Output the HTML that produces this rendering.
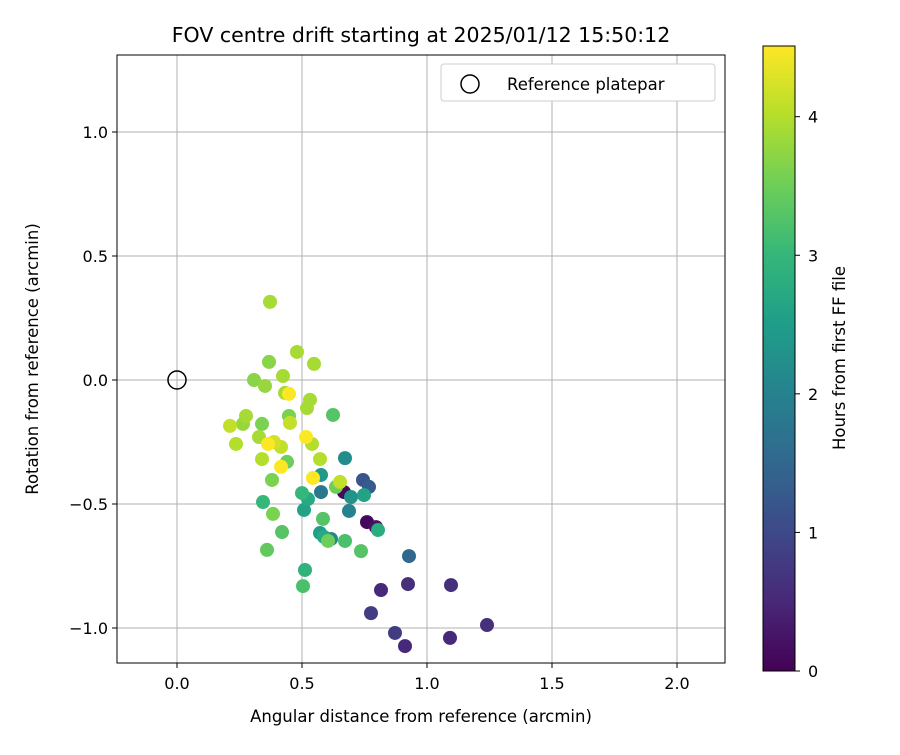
<!DOCTYPE html>
<html><head><meta charset="utf-8"><style>
body{margin:0;background:#fff;font-family:"Liberation Sans","DejaVu Sans",sans-serif}
svg text{font-family:"DejaVu Sans","Liberation Sans",sans-serif;fill:#000}
</style></head><body>
<svg id="chart" width="900" height="750" viewBox="0 0 900 750" xmlns="http://www.w3.org/2000/svg">
<defs>
<linearGradient id="vir" x1="0" y1="1" x2="0" y2="0">
<stop offset="0" stop-color="#440154"/><stop offset="0.111" stop-color="#482878"/><stop offset="0.222" stop-color="#3e4989"/><stop offset="0.333" stop-color="#31688e"/><stop offset="0.444" stop-color="#26828e"/><stop offset="0.556" stop-color="#1f9e89"/><stop offset="0.667" stop-color="#35b779"/><stop offset="0.778" stop-color="#6ece58"/><stop offset="0.889" stop-color="#b5de2b"/><stop offset="1" stop-color="#fde725"/>
</linearGradient>
</defs>
<text x="421" y="42" font-size="20.5" text-anchor="middle">FOV centre drift starting at 2025/01/12 15:50:12</text>
<g id="grid"></g>
<g id="marks"></g>
<rect x="117" y="55" width="608" height="608" fill="none" stroke="#000" stroke-width="1"/>
<g id="axes"></g>
<text x="421" y="722" font-size="16.5" text-anchor="middle">Angular distance from reference (arcmin)</text>
<text transform="translate(38,359) rotate(-90)" font-size="16.5" text-anchor="middle">Rotation from reference (arcmin)</text>
<g>
<rect x="441" y="64" width="274" height="37" rx="3" fill="#fff" stroke="#ccc"/>
<circle cx="470" cy="84" r="9" fill="none" stroke="#000" stroke-width="1.5"/>
<text x="507" y="90" font-size="16.5">Reference platepar</text>
</g>
<g>
<rect x="763" y="46" width="32" height="625" fill="url(#vir)" stroke="#000" stroke-width="1"/>
<g id="cbticks"></g>
<text transform="translate(845,358) rotate(-90)" font-size="16.5" text-anchor="middle">Hours from first FF file</text>
</g>
</svg>
<script>
const xs=[0.372,0.368,0.48,0.548,0.308,0.352,0.424,0.432,0.448,0.532,0.52,0.448,0.452,0.624,0.276,0.264,0.212,0.34,0.328,0.236,0.364,0.388,0.416,0.516,0.54,0.34,0.44,0.572,0.416,0.544,0.652,0.636,0.38,0.672,0.576,0.576,0.668,0.5,0.524,0.344,0.384,0.508,0.688,0.696,0.744,0.768,0.748,0.76,0.796,0.804,0.584,0.42,0.572,0.588,0.616,0.604,0.672,0.736,0.36,0.928,0.512,0.504,0.816,0.924,1.096,0.776,0.872,0.912,1.092,1.24];
const ys=[0.315,0.073,0.113,0.065,0.0,-0.024,0.016,-0.052,-0.056,-0.08,-0.113,-0.145,-0.173,-0.141,-0.145,-0.177,-0.185,-0.177,-0.23,-0.258,-0.258,-0.25,-0.27,-0.23,-0.258,-0.319,-0.33,-0.319,-0.35,-0.395,-0.411,-0.431,-0.403,-0.315,-0.383,-0.452,-0.452,-0.456,-0.48,-0.492,-0.54,-0.524,-0.528,-0.472,-0.403,-0.431,-0.464,-0.573,-0.593,-0.605,-0.56,-0.613,-0.617,-0.633,-0.641,-0.649,-0.649,-0.69,-0.685,-0.71,-0.766,-0.831,-0.847,-0.823,-0.827,-0.94,-1.02,-1.073,-1.04,-0.988];
const hours=[3.9,3.7,3.9,3.9,3.7,3.8,3.9,3.9,4.5,3.9,3.9,3.6,4.1,3.3,3.9,3.8,4.1,3.6,3.9,4.0,4.5,4.2,4.1,4.5,4.0,4.0,3.5,4.0,4.5,4.5,4.1,3.5,3.6,2.2,2.4,1.8,0.1,3.0,2.7,3.0,3.6,2.6,2.0,2.3,1.2,1.3,2.6,0.1,0.2,2.8,3.3,3.3,2.5,2.7,2.1,3.5,3.2,3.3,3.4,1.5,2.9,3.2,0.5,0.6,0.6,0.8,0.8,0.5,0.5,0.6];
const xTicks=[0,0.5,1,1.5,2];
const yTicks=[-1,-0.5,0,0.5,1];
const cTicks=[0,1,2,3,4];
const NS="http://www.w3.org/2000/svg";
const X=v=>177+v*250, Y=v=>380-v*248, C=h=>671-h*(625/4.51);
const vir=[[68,1,84],[72,40,120],[62,73,137],[49,104,142],[38,130,142],[31,158,137],[53,183,121],[110,206,88],[181,222,43],[253,231,37]];
function col(h){let t=Math.max(0,Math.min(1,h/4.51))*9;let i=Math.min(8,Math.floor(t)),f=t-i;let a=vir[i],b=vir[i+1];return `rgb(${a.map((v,k)=>Math.round(v+(b[k]-v)*f)).join(',')})`;}
function mk(tag,attrs,parent){const e=document.createElementNS(NS,tag);for(const k in attrs)e.setAttribute(k,attrs[k]);parent.appendChild(e);return e;}
const grid=document.getElementById('grid'),axes=document.getElementById('axes'),marks=document.getElementById('marks'),cb=document.getElementById('cbticks');
const fmt=v=>(v<0?'\u2212':'')+Math.abs(v).toFixed(1);
xTicks.forEach(v=>{const l=mk('line',{x1:X(v),x2:X(v),y1:55,y2:663,stroke:'#b0b0b0','stroke-width':1},grid);


mk('line',{x1:X(v),x2:X(v),y1:663,y2:668,stroke:'#000'},axes);
const t=mk('text',{x:X(v),y:689,'font-size':16,'text-anchor':'middle'},axes);t.textContent=fmt(v);

});
yTicks.forEach(v=>{const l=mk('line',{x1:117,x2:725,y1:Y(v),y2:Y(v),stroke:'#b0b0b0','stroke-width':1},grid);


mk('line',{x1:112,x2:117,y1:Y(v),y2:Y(v),stroke:'#000'},axes);
const t=mk('text',{x:108,y:Y(v)+6,'font-size':16,'text-anchor':'end'},axes);t.textContent=fmt(v);

});
cTicks.forEach(v=>{mk('line',{x1:795,x2:800,y1:C(v),y2:C(v),stroke:'#000'},cb);
const t=mk('text',{x:808,y:C(v)+6,'font-size':16},cb);t.textContent=v;

});
const idx=xs.map((_,i)=>i).sort((a,b)=>hours[a]-hours[b]);
idx.forEach(i=>{const c=mk('circle',{cx:X(xs[i]),cy:Y(ys[i]),r:7,fill:col(hours[i])},marks);

});
const r=mk('circle',{cx:X(0),cy:Y(0),r:9,fill:'none',stroke:'#000','stroke-width':1.5},marks);


</script>
</body></html>
